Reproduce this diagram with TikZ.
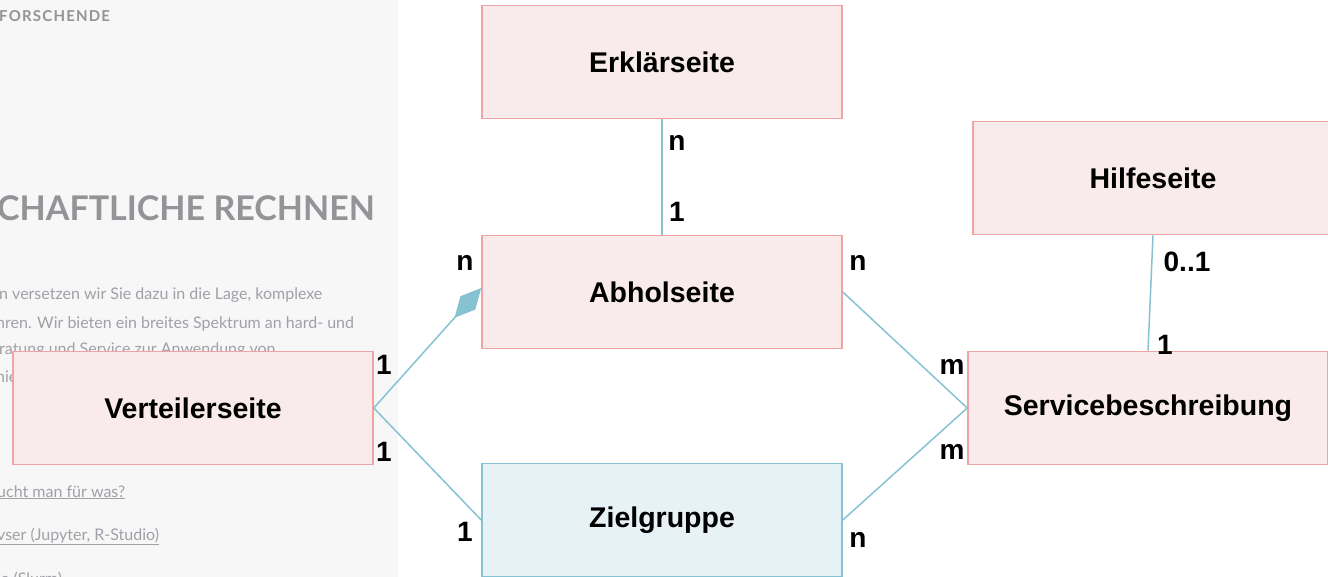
\documentclass[tikz,border=0pt]{standalone}
\usepackage{fontspec}
\setmainfont{Liberation Sans}
\newfontfamily\webfont{Lato}
\newfontfamily\webheadfont[LetterSpace=8]{Lato}
\usetikzlibrary{arrows.meta}
\definecolor{boxred}{HTML}{F9EBEB}
\definecolor{linered}{HTML}{F0A3A3}
\definecolor{boxblue}{HTML}{E6F2F5}
\definecolor{lineblue}{HTML}{86C2D2}
\definecolor{webgray}{HTML}{F7F7F7}
\definecolor{webtext}{HTML}{A0A0A8}
\definecolor{webhead}{HTML}{939398}
\begin{document}
\begin{tikzpicture}[x=1pt,y=-1pt,
	entity/.style={draw=linered,fill=boxred,line width=1.6pt,minimum width=360pt,minimum height=113pt,font=\fontsize{28.5}{32}\selectfont\bfseries},
	group/.style={entity,draw=lineblue,fill=boxblue},
	link/.style={draw=lineblue,line width=1.5pt},
	card/.style={font=\fontsize{28}{32}\selectfont\bfseries},
	webline/.style={anchor=base west,inner sep=0pt,text=webtext,font=\webfont\fontsize{16}{19}\selectfont}]
	\useasboundingbox (0,0) rectangle (1328,577);
	% background page
	\fill[webgray] (0,0) rectangle (398,577);
	\node[anchor=base west,inner sep=0pt,text=webhead,font=\webheadfont\bfseries\fontsize{15}{18}\selectfont] (forsch) at (-1,22) {FORSCHENDE};
	\node[anchor=base west,inner sep=0pt,text=webhead,font=\webfont\bfseries\fontsize{34}{38}\selectfont] (rechnen) at (-3,221) {CHAFTLICHE RECHNEN};
	\node[webline] (zeile1) at (-1,300) {n versetzen wir Sie dazu in die Lage, komplexe};
	\node[webline] (zeile2) at (-4,328) {hren. Wir bieten ein breites Spektrum an hard- und};
	\node[webline] (zeile3) at (-1,355) {ratung und Service zur Anwendung von};
	\node[webline] (zeile4) at (-4,382) {nie};
	\node[webline] (link1) at (-3,497) {\underline{ucht man für was?}};
	\node[webline] (link2) at (-3,540) {\underline{vser (Jupyter, R-Studio)}};
	\node[webline] (link3) at (-3,584) {\underline{le (Slurm)}};
	% entities
	\node[entity] (erkl) at (662,62) {Erklärseite};
	\node[entity] (abhol) at (662,292) {Abholseite};
	\node[entity] (hilfe) at (1153,178) {Hilfeseite};
	\node[entity] (vert) at (193,408) {Verteilerseite};
	\node[entity] (service) at (1148,408) {Servicebeschreibung};
	\node[group] (ziel) at (662,520) {Zielgruppe};
	% relations
	\draw[link] (erkl) -- (abhol);
	\draw[link,-{Diamond[length=40pt,width=20pt,fill=lineblue]}] (vert.east) -- ([yshift=4pt]abhol.west);
	\draw[link] (vert.east) -- (ziel.west);
	\draw[link] (abhol.east) -- (service.west);
	\draw[link] (ziel.east) -- (service.west);
	\draw[link] (hilfe.south) -- (service.north);
	% cardinalities
	\node[card] (c1) at (677,143) {n};
	\node[card] (c2) at (677,212) {1};
	\node[card] (c3) at (384,365) {1};
	\node[card] (c4) at (465,263) {n};
	\node[card] (c5) at (384,452) {1};
	\node[card] (c6) at (465,532) {1};
	\node[card] (c7) at (858,263) {n};
	\node[card] (c8) at (952,367) {m};
	\node[card] (c9) at (952,452) {m};
	\node[card] (c10) at (858,540) {n};
	\node[card] (c11) at (1187,262) {0..1};
	\node[card] (c12) at (1165,345) {1};
\end{tikzpicture}
\end{document}
